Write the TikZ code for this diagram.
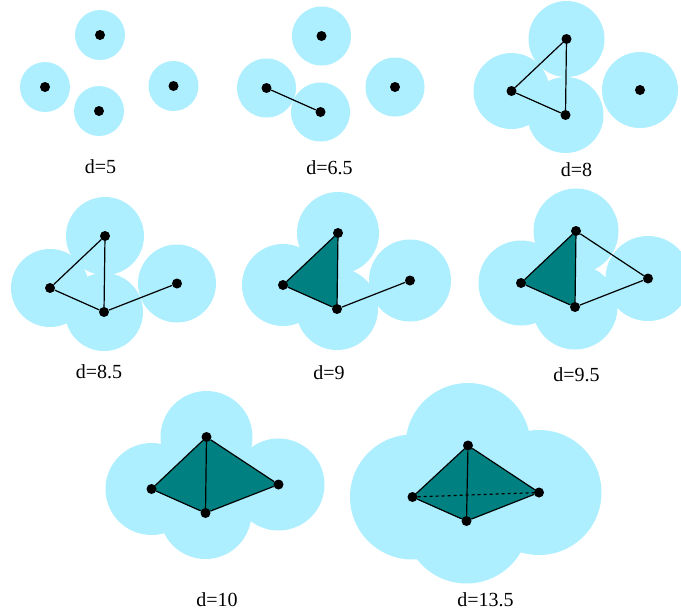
\documentclass[tikz,border=0pt]{standalone}
\usepackage{fontspec}
\setmainfont{Liberation Serif}
\definecolor{ballblue}{RGB}{173,238,255}
\definecolor{simplex}{RGB}{0,128,128}

\begin{document}
\begin{tikzpicture}[x=1pt,y=-1pt]

\def\dsize{10pt}
\def\lw{1.2pt}

\tikzstyle{ball} = [fill=ballblue];
\tikzstyle{face} = [fill=simplex];
\tikzstyle{vnode} = [circle,fill=black,minimum size=\dsize,inner sep=0pt];
\tikzstyle{edge} = [line width=\lw,black];
\tikzstyle{cnode} = [anchor=base,inner sep=0pt,font=\fontsize{20}{22}\selectfont];

\useasboundingbox (0,0) rectangle (681,614);

\begin{scope}[shift={(45,87)}]

\coordinate (l) at (0,0);
\coordinate (t) at (55,-52);
\coordinate (b) at (54,24);
\coordinate (r) at (128.5,-1);

\fill [ball] (l) circle (25pt);
\fill [ball] (t) circle (25pt);
\fill [ball] (b) circle (25pt);
\fill [ball] (r) circle (25pt);

\node [vnode] (lv) at (l) {};
\node [vnode] (tv) at (t) {};
\node [vnode] (bv) at (b) {};
\node [vnode] (rv) at (r) {};

\node [cnode] (caption) at (55.5,86) {d=5};

\end{scope}

\begin{scope}[shift={(266.5,88)}]

\coordinate (l) at (0,0);
\coordinate (t) at (55,-52);
\coordinate (b) at (54,24);
\coordinate (r) at (128.5,-1);

\fill [ball] (l) circle (29.5pt);
\fill [ball] (t) circle (29.5pt);
\fill [ball] (b) circle (29.5pt);
\fill [ball] (r) circle (29.5pt);

\node [vnode] (lv) at (l) {};
\node [vnode] (tv) at (t) {};
\node [vnode] (bv) at (b) {};
\node [vnode] (rv) at (r) {};

\draw [edge] (lv) -- (bv);

\node [cnode] (caption) at (63,86) {d=6.5};

\end{scope}

\begin{scope}[shift={(511.5,91)}]

\coordinate (l) at (0,0);
\coordinate (t) at (55,-52);
\coordinate (b) at (54,24);
\coordinate (r) at (128.5,-1);

\fill [ball] (l) circle (38pt);
\fill [ball] (t) circle (38pt);
\fill [ball] (b) circle (38pt);
\fill [ball] (r) circle (38pt);

\node [vnode] (lv) at (l) {};
\node [vnode] (tv) at (t) {};
\node [vnode] (bv) at (b) {};
\node [vnode] (rv) at (r) {};

\draw [edge] (lv) -- (tv);
\draw [edge] (tv) -- (bv);
\draw [edge] (lv) -- (bv);

\node [cnode] (caption) at (65,85) {d=8};

\end{scope}

\begin{scope}[shift={(50,288)}]

\coordinate (l) at (0,0);
\coordinate (t) at (55,-52);
\coordinate (b) at (54,24);
\coordinate (r) at (127,-4.5);

\fill [ball] (l) circle (39pt);
\fill [ball] (t) circle (39pt);
\fill [ball] (b) circle (39pt);
\fill [ball] (r) circle (39pt);

\node [vnode] (lv) at (l) {};
\node [vnode] (tv) at (t) {};
\node [vnode] (bv) at (b) {};
\node [vnode] (rv) at (r) {};

\draw [edge] (lv) -- (tv);
\draw [edge] (tv) -- (bv);
\draw [edge] (lv) -- (bv);
\draw [edge] (bv) -- (rv);

\node [cnode] (caption) at (49,90) {d=8.5};

\end{scope}

\begin{scope}[shift={(283,285)}]

\coordinate (l) at (0,0);
\coordinate (t) at (55,-52);
\coordinate (b) at (54,24);
\coordinate (r) at (127,-4.5);

\fill [ball] (l) circle (41pt);
\fill [ball] (t) circle (41pt);
\fill [ball] (b) circle (41pt);
\fill [ball] (r) circle (41pt);

\fill [face] (l) -- (t) -- (b) -- cycle;

\node [vnode] (lv) at (l) {};
\node [vnode] (tv) at (t) {};
\node [vnode] (bv) at (b) {};
\node [vnode] (rv) at (r) {};

\draw [edge] (lv) -- (tv);
\draw [edge] (tv) -- (bv);
\draw [edge] (lv) -- (bv);
\draw [edge] (bv) -- (rv);

\node [cnode] (caption) at (46,94) {d=9};

\end{scope}

\begin{scope}[shift={(521,283)}]

\coordinate (l) at (0,0);
\coordinate (t) at (55,-52);
\coordinate (b) at (54,24);
\coordinate (r) at (127,-4.5);

\fill [ball] (l) circle (42.5pt);
\fill [ball] (t) circle (42.5pt);
\fill [ball] (b) circle (42.5pt);
\fill [ball] (r) circle (42.5pt);

\fill [face] (l) -- (t) -- (b) -- cycle;

\node [vnode] (lv) at (l) {};
\node [vnode] (tv) at (t) {};
\node [vnode] (bv) at (b) {};
\node [vnode] (rv) at (r) {};

\draw [edge] (lv) -- (tv);
\draw [edge] (tv) -- (bv);
\draw [edge] (lv) -- (bv);
\draw [edge] (bv) -- (rv);
\draw [edge] (tv) -- (rv);

\node [cnode] (caption) at (55.5,98.5) {d=9.5};

\end{scope}

\begin{scope}[shift={(151.5,489)}]

\coordinate (l) at (0,0);
\coordinate (t) at (55,-52);
\coordinate (b) at (54,24);
\coordinate (r) at (127,-4.5);

\fill [ball] (l) circle (46pt);
\fill [ball] (t) circle (46pt);
\fill [ball] (b) circle (46pt);
\fill [ball] (r) circle (46pt);

\fill [face] (l) -- (t) -- (b) -- cycle;
\fill [face] (t) -- (r) -- (b) -- cycle;

\node [vnode] (lv) at (l) {};
\node [vnode] (tv) at (t) {};
\node [vnode] (bv) at (b) {};
\node [vnode] (rv) at (r) {};

\draw [edge] (lv) -- (tv);
\draw [edge] (tv) -- (bv);
\draw [edge] (lv) -- (bv);
\draw [edge] (bv) -- (rv);
\draw [edge] (tv) -- (rv);

\node [cnode] (caption) at (65.5,117.5) {d=10};

\end{scope}

\begin{scope}[shift={(412.5,497)}]

\coordinate (l) at (0,0);
\coordinate (t) at (55.5,-51.5);
\coordinate (b) at (54,24);
\coordinate (r) at (126.5,-4.5);

\fill [ball] (l) circle (62.5pt);
\fill [ball] (t) circle (62.5pt);
\fill [ball] (b) circle (62.5pt);
\fill [ball] (r) circle (62.5pt);

\fill [face] (l) -- (t) -- (r) -- (b) -- cycle;

\node [vnode] (lv) at (l) {};
\node [vnode] (tv) at (t) {};
\node [vnode] (bv) at (b) {};
\node [vnode] (rv) at (r) {};

\draw [edge] (lv) -- (tv);
\draw [edge] (tv) -- (bv);
\draw [edge] (lv) -- (bv);
\draw [edge] (bv) -- (rv);
\draw [edge] (tv) -- (rv);
\draw [edge,dashed] (lv) -- (rv);

\node [cnode] (caption) at (73,109.5) {d=13.5};

\end{scope}

\end{tikzpicture}
\end{document}
